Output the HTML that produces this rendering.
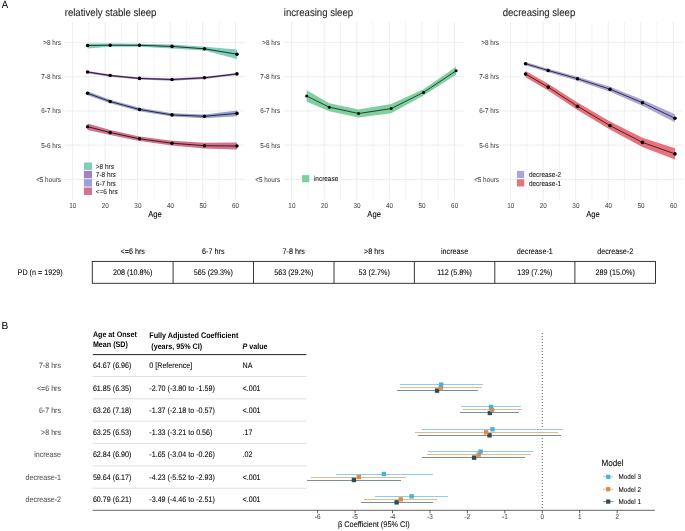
<!DOCTYPE html>
<html><head><meta charset="utf-8"><style>
html,body{margin:0;padding:0;background:#fff;}
body{width:685px;height:531px;overflow:hidden;}
svg{display:block;font-family:"Liberation Sans", sans-serif;will-change:transform;filter:blur(0.3px);}
text{text-rendering:geometricPrecision;}
</style></head><body>
<svg width="685" height="531" viewBox="0 0 685 531">
<rect x="0" y="0" width="685" height="531" fill="#fff"/>
<text transform="translate(1.80 7.80) scale(1 1.12)" font-size="9.5" fill="#000" stroke="#000" stroke-width="0.06">A</text>
<line x1="88.88" y1="21.80" x2="88.88" y2="199.80" stroke="#ebebeb" stroke-width="0.6"/>
<line x1="121.42" y1="21.80" x2="121.42" y2="199.80" stroke="#ebebeb" stroke-width="0.6"/>
<line x1="153.97" y1="21.80" x2="153.97" y2="199.80" stroke="#ebebeb" stroke-width="0.6"/>
<line x1="186.52" y1="21.80" x2="186.52" y2="199.80" stroke="#ebebeb" stroke-width="0.6"/>
<line x1="219.07" y1="21.80" x2="219.07" y2="199.80" stroke="#ebebeb" stroke-width="0.6"/>
<line x1="72.60" y1="21.80" x2="72.60" y2="199.80" stroke="#ebebeb" stroke-width="0.9"/>
<line x1="105.15" y1="21.80" x2="105.15" y2="199.80" stroke="#ebebeb" stroke-width="0.9"/>
<line x1="137.70" y1="21.80" x2="137.70" y2="199.80" stroke="#ebebeb" stroke-width="0.9"/>
<line x1="170.25" y1="21.80" x2="170.25" y2="199.80" stroke="#ebebeb" stroke-width="0.9"/>
<line x1="202.80" y1="21.80" x2="202.80" y2="199.80" stroke="#ebebeb" stroke-width="0.9"/>
<line x1="235.35" y1="21.80" x2="235.35" y2="199.80" stroke="#ebebeb" stroke-width="0.9"/>
<line x1="64.80" y1="42.40" x2="244.90" y2="42.40" stroke="#ebebeb" stroke-width="0.9"/>
<text transform="translate(61.00 44.90) scale(1 1.12)" font-size="6.35" fill="#4d4d4d" text-anchor="end" stroke="#4d4d4d" stroke-width="0.06">&gt;8 hrs</text>
<line x1="64.80" y1="76.65" x2="244.90" y2="76.65" stroke="#ebebeb" stroke-width="0.9"/>
<text transform="translate(61.00 79.15) scale(1 1.12)" font-size="6.35" fill="#4d4d4d" text-anchor="end" stroke="#4d4d4d" stroke-width="0.06">7-8 hrs</text>
<line x1="64.80" y1="110.90" x2="244.90" y2="110.90" stroke="#ebebeb" stroke-width="0.9"/>
<text transform="translate(61.00 113.40) scale(1 1.12)" font-size="6.35" fill="#4d4d4d" text-anchor="end" stroke="#4d4d4d" stroke-width="0.06">6-7 hrs</text>
<line x1="64.80" y1="145.15" x2="244.90" y2="145.15" stroke="#ebebeb" stroke-width="0.9"/>
<text transform="translate(61.00 147.65) scale(1 1.12)" font-size="6.35" fill="#4d4d4d" text-anchor="end" stroke="#4d4d4d" stroke-width="0.06">5-6 hrs</text>
<line x1="64.80" y1="179.40" x2="244.90" y2="179.40" stroke="#ebebeb" stroke-width="0.9"/>
<text transform="translate(61.00 181.90) scale(1 1.12)" font-size="6.35" fill="#4d4d4d" text-anchor="end" stroke="#4d4d4d" stroke-width="0.06">&lt;5 hours</text>
<text transform="translate(72.80 208.00) scale(1 1.12)" font-size="6.35" fill="#4d4d4d" text-anchor="middle" stroke="#4d4d4d" stroke-width="0.06">10</text>
<text transform="translate(105.35 208.00) scale(1 1.12)" font-size="6.35" fill="#4d4d4d" text-anchor="middle" stroke="#4d4d4d" stroke-width="0.06">20</text>
<text transform="translate(137.90 208.00) scale(1 1.12)" font-size="6.35" fill="#4d4d4d" text-anchor="middle" stroke="#4d4d4d" stroke-width="0.06">30</text>
<text transform="translate(170.45 208.00) scale(1 1.12)" font-size="6.35" fill="#4d4d4d" text-anchor="middle" stroke="#4d4d4d" stroke-width="0.06">40</text>
<text transform="translate(203.00 208.00) scale(1 1.12)" font-size="6.35" fill="#4d4d4d" text-anchor="middle" stroke="#4d4d4d" stroke-width="0.06">50</text>
<text transform="translate(235.55 208.00) scale(1 1.12)" font-size="6.35" fill="#4d4d4d" text-anchor="middle" stroke="#4d4d4d" stroke-width="0.06">60</text>
<text transform="translate(155.00 217.30) scale(1 1.12)" font-size="7.65" fill="#000" text-anchor="middle" stroke="#000" stroke-width="0.06">Age</text>
<text transform="translate(64.70 15.80) scale(1 1.12)" font-size="9.6" fill="#1a1a1a" stroke="#1a1a1a" stroke-width="0.06">relatively stable sleep</text>
<line x1="307.97" y1="21.80" x2="307.97" y2="199.80" stroke="#ebebeb" stroke-width="0.6"/>
<line x1="340.52" y1="21.80" x2="340.52" y2="199.80" stroke="#ebebeb" stroke-width="0.6"/>
<line x1="373.07" y1="21.80" x2="373.07" y2="199.80" stroke="#ebebeb" stroke-width="0.6"/>
<line x1="405.62" y1="21.80" x2="405.62" y2="199.80" stroke="#ebebeb" stroke-width="0.6"/>
<line x1="438.17" y1="21.80" x2="438.17" y2="199.80" stroke="#ebebeb" stroke-width="0.6"/>
<line x1="291.70" y1="21.80" x2="291.70" y2="199.80" stroke="#ebebeb" stroke-width="0.9"/>
<line x1="324.25" y1="21.80" x2="324.25" y2="199.80" stroke="#ebebeb" stroke-width="0.9"/>
<line x1="356.80" y1="21.80" x2="356.80" y2="199.80" stroke="#ebebeb" stroke-width="0.9"/>
<line x1="389.35" y1="21.80" x2="389.35" y2="199.80" stroke="#ebebeb" stroke-width="0.9"/>
<line x1="421.90" y1="21.80" x2="421.90" y2="199.80" stroke="#ebebeb" stroke-width="0.9"/>
<line x1="454.45" y1="21.80" x2="454.45" y2="199.80" stroke="#ebebeb" stroke-width="0.9"/>
<line x1="283.90" y1="42.40" x2="464.00" y2="42.40" stroke="#ebebeb" stroke-width="0.9"/>
<text transform="translate(280.10 44.90) scale(1 1.12)" font-size="6.35" fill="#4d4d4d" text-anchor="end" stroke="#4d4d4d" stroke-width="0.06">&gt;8 hrs</text>
<line x1="283.90" y1="76.65" x2="464.00" y2="76.65" stroke="#ebebeb" stroke-width="0.9"/>
<text transform="translate(280.10 79.15) scale(1 1.12)" font-size="6.35" fill="#4d4d4d" text-anchor="end" stroke="#4d4d4d" stroke-width="0.06">7-8 hrs</text>
<line x1="283.90" y1="110.90" x2="464.00" y2="110.90" stroke="#ebebeb" stroke-width="0.9"/>
<text transform="translate(280.10 113.40) scale(1 1.12)" font-size="6.35" fill="#4d4d4d" text-anchor="end" stroke="#4d4d4d" stroke-width="0.06">6-7 hrs</text>
<line x1="283.90" y1="145.15" x2="464.00" y2="145.15" stroke="#ebebeb" stroke-width="0.9"/>
<text transform="translate(280.10 147.65) scale(1 1.12)" font-size="6.35" fill="#4d4d4d" text-anchor="end" stroke="#4d4d4d" stroke-width="0.06">5-6 hrs</text>
<line x1="283.90" y1="179.40" x2="464.00" y2="179.40" stroke="#ebebeb" stroke-width="0.9"/>
<text transform="translate(280.10 181.90) scale(1 1.12)" font-size="6.35" fill="#4d4d4d" text-anchor="end" stroke="#4d4d4d" stroke-width="0.06">&lt;5 hours</text>
<text transform="translate(291.90 208.00) scale(1 1.12)" font-size="6.35" fill="#4d4d4d" text-anchor="middle" stroke="#4d4d4d" stroke-width="0.06">10</text>
<text transform="translate(324.45 208.00) scale(1 1.12)" font-size="6.35" fill="#4d4d4d" text-anchor="middle" stroke="#4d4d4d" stroke-width="0.06">20</text>
<text transform="translate(357.00 208.00) scale(1 1.12)" font-size="6.35" fill="#4d4d4d" text-anchor="middle" stroke="#4d4d4d" stroke-width="0.06">30</text>
<text transform="translate(389.55 208.00) scale(1 1.12)" font-size="6.35" fill="#4d4d4d" text-anchor="middle" stroke="#4d4d4d" stroke-width="0.06">40</text>
<text transform="translate(422.10 208.00) scale(1 1.12)" font-size="6.35" fill="#4d4d4d" text-anchor="middle" stroke="#4d4d4d" stroke-width="0.06">50</text>
<text transform="translate(454.65 208.00) scale(1 1.12)" font-size="6.35" fill="#4d4d4d" text-anchor="middle" stroke="#4d4d4d" stroke-width="0.06">60</text>
<text transform="translate(374.10 217.30) scale(1 1.12)" font-size="7.65" fill="#000" text-anchor="middle" stroke="#000" stroke-width="0.06">Age</text>
<text transform="translate(283.80 15.80) scale(1 1.12)" font-size="9.6" fill="#1a1a1a" stroke="#1a1a1a" stroke-width="0.06">increasing sleep</text>
<line x1="526.88" y1="21.80" x2="526.88" y2="199.80" stroke="#ebebeb" stroke-width="0.6"/>
<line x1="559.43" y1="21.80" x2="559.43" y2="199.80" stroke="#ebebeb" stroke-width="0.6"/>
<line x1="591.98" y1="21.80" x2="591.98" y2="199.80" stroke="#ebebeb" stroke-width="0.6"/>
<line x1="624.52" y1="21.80" x2="624.52" y2="199.80" stroke="#ebebeb" stroke-width="0.6"/>
<line x1="657.08" y1="21.80" x2="657.08" y2="199.80" stroke="#ebebeb" stroke-width="0.6"/>
<line x1="510.60" y1="21.80" x2="510.60" y2="199.80" stroke="#ebebeb" stroke-width="0.9"/>
<line x1="543.15" y1="21.80" x2="543.15" y2="199.80" stroke="#ebebeb" stroke-width="0.9"/>
<line x1="575.70" y1="21.80" x2="575.70" y2="199.80" stroke="#ebebeb" stroke-width="0.9"/>
<line x1="608.25" y1="21.80" x2="608.25" y2="199.80" stroke="#ebebeb" stroke-width="0.9"/>
<line x1="640.80" y1="21.80" x2="640.80" y2="199.80" stroke="#ebebeb" stroke-width="0.9"/>
<line x1="673.35" y1="21.80" x2="673.35" y2="199.80" stroke="#ebebeb" stroke-width="0.9"/>
<line x1="502.80" y1="42.40" x2="682.90" y2="42.40" stroke="#ebebeb" stroke-width="0.9"/>
<text transform="translate(499.00 44.90) scale(1 1.12)" font-size="6.35" fill="#4d4d4d" text-anchor="end" stroke="#4d4d4d" stroke-width="0.06">&gt;8 hrs</text>
<line x1="502.80" y1="76.65" x2="682.90" y2="76.65" stroke="#ebebeb" stroke-width="0.9"/>
<text transform="translate(499.00 79.15) scale(1 1.12)" font-size="6.35" fill="#4d4d4d" text-anchor="end" stroke="#4d4d4d" stroke-width="0.06">7-8 hrs</text>
<line x1="502.80" y1="110.90" x2="682.90" y2="110.90" stroke="#ebebeb" stroke-width="0.9"/>
<text transform="translate(499.00 113.40) scale(1 1.12)" font-size="6.35" fill="#4d4d4d" text-anchor="end" stroke="#4d4d4d" stroke-width="0.06">6-7 hrs</text>
<line x1="502.80" y1="145.15" x2="682.90" y2="145.15" stroke="#ebebeb" stroke-width="0.9"/>
<text transform="translate(499.00 147.65) scale(1 1.12)" font-size="6.35" fill="#4d4d4d" text-anchor="end" stroke="#4d4d4d" stroke-width="0.06">5-6 hrs</text>
<line x1="502.80" y1="179.40" x2="682.90" y2="179.40" stroke="#ebebeb" stroke-width="0.9"/>
<text transform="translate(499.00 181.90) scale(1 1.12)" font-size="6.35" fill="#4d4d4d" text-anchor="end" stroke="#4d4d4d" stroke-width="0.06">&lt;5 hours</text>
<text transform="translate(510.80 208.00) scale(1 1.12)" font-size="6.35" fill="#4d4d4d" text-anchor="middle" stroke="#4d4d4d" stroke-width="0.06">10</text>
<text transform="translate(543.35 208.00) scale(1 1.12)" font-size="6.35" fill="#4d4d4d" text-anchor="middle" stroke="#4d4d4d" stroke-width="0.06">20</text>
<text transform="translate(575.90 208.00) scale(1 1.12)" font-size="6.35" fill="#4d4d4d" text-anchor="middle" stroke="#4d4d4d" stroke-width="0.06">30</text>
<text transform="translate(608.45 208.00) scale(1 1.12)" font-size="6.35" fill="#4d4d4d" text-anchor="middle" stroke="#4d4d4d" stroke-width="0.06">40</text>
<text transform="translate(641.00 208.00) scale(1 1.12)" font-size="6.35" fill="#4d4d4d" text-anchor="middle" stroke="#4d4d4d" stroke-width="0.06">50</text>
<text transform="translate(673.55 208.00) scale(1 1.12)" font-size="6.35" fill="#4d4d4d" text-anchor="middle" stroke="#4d4d4d" stroke-width="0.06">60</text>
<text transform="translate(593.00 217.30) scale(1 1.12)" font-size="7.65" fill="#000" text-anchor="middle" stroke="#000" stroke-width="0.06">Age</text>
<text transform="translate(502.70 15.80) scale(1 1.12)" font-size="9.6" fill="#1a1a1a" stroke="#1a1a1a" stroke-width="0.06">decreasing sleep</text>
<polygon points="87.57,43.60 110.20,43.60 139.49,43.70 172.04,44.40 204.43,46.80 236.98,49.50 236.98,59.00 204.43,50.60 172.04,48.40 139.49,46.80 110.20,46.80 87.57,48.60" fill="#7fcdbb" fill-opacity="1.0"/>
<polyline points="87.57,45.50 110.20,45.20 139.49,45.30 172.04,46.40 204.43,48.80 236.98,54.20" fill="none" stroke="#000" stroke-width="0.75" stroke-linejoin="round"/>
<circle cx="87.57" cy="45.50" r="1.78" fill="#000"/>
<circle cx="110.20" cy="45.20" r="1.78" fill="#000"/>
<circle cx="139.49" cy="45.30" r="1.78" fill="#000"/>
<circle cx="172.04" cy="46.40" r="1.78" fill="#000"/>
<circle cx="204.43" cy="48.80" r="1.78" fill="#000"/>
<circle cx="236.98" cy="54.20" r="1.78" fill="#000"/>
<polygon points="87.57,71.00 110.20,74.50 139.49,77.40 172.04,78.50 204.43,76.80 236.98,72.90 236.98,75.10 204.43,79.00 172.04,80.70 139.49,79.60 110.20,76.70 87.57,73.20" fill="#a67fc4" fill-opacity="1.0"/>
<polyline points="87.57,72.00 110.20,75.50 139.49,78.40 172.04,79.50 204.43,77.80 236.98,73.90" fill="none" stroke="#000" stroke-width="0.75" stroke-linejoin="round"/>
<circle cx="87.57" cy="72.00" r="1.78" fill="#000"/>
<circle cx="110.20" cy="75.50" r="1.78" fill="#000"/>
<circle cx="139.49" cy="78.40" r="1.78" fill="#000"/>
<circle cx="172.04" cy="79.50" r="1.78" fill="#000"/>
<circle cx="204.43" cy="77.80" r="1.78" fill="#000"/>
<circle cx="236.98" cy="73.90" r="1.78" fill="#000"/>
<polygon points="87.57,91.30 110.20,99.80 139.49,107.80 172.04,113.20 204.43,114.40 236.98,110.60 236.98,116.20 204.43,118.20 172.04,116.60 139.49,111.20 110.20,103.20 87.57,95.30" fill="#98a3d3" fill-opacity="1.0"/>
<polyline points="87.57,93.30 110.20,101.50 139.49,109.50 172.04,114.90 204.43,116.30 236.98,113.40" fill="none" stroke="#000" stroke-width="0.75" stroke-linejoin="round"/>
<circle cx="87.57" cy="93.30" r="1.78" fill="#000"/>
<circle cx="110.20" cy="101.50" r="1.78" fill="#000"/>
<circle cx="139.49" cy="109.50" r="1.78" fill="#000"/>
<circle cx="172.04" cy="114.90" r="1.78" fill="#000"/>
<circle cx="204.43" cy="116.30" r="1.78" fill="#000"/>
<circle cx="236.98" cy="113.40" r="1.78" fill="#000"/>
<polygon points="87.57,123.40 110.20,129.90 139.49,136.60 172.04,140.80 204.43,142.80 236.98,142.40 236.98,149.60 204.43,148.60 172.04,145.60 139.49,141.00 110.20,135.10 87.57,130.00" fill="#d5718a" fill-opacity="1.0"/>
<polyline points="87.57,126.70 110.20,132.50 139.49,138.80 172.04,143.20 204.43,145.70 236.98,146.00" fill="none" stroke="#000" stroke-width="0.75" stroke-linejoin="round"/>
<circle cx="87.57" cy="126.70" r="1.78" fill="#000"/>
<circle cx="110.20" cy="132.50" r="1.78" fill="#000"/>
<circle cx="139.49" cy="138.80" r="1.78" fill="#000"/>
<circle cx="172.04" cy="143.20" r="1.78" fill="#000"/>
<circle cx="204.43" cy="145.70" r="1.78" fill="#000"/>
<circle cx="236.98" cy="146.00" r="1.78" fill="#000"/>
<polygon points="306.67,90.30 329.30,103.20 358.59,109.40 391.14,104.00 423.53,89.20 456.08,66.80 456.08,74.80 423.53,95.60 391.14,113.20 358.59,117.60 329.30,111.20 306.67,101.70" fill="#7fcf9f" fill-opacity="1.0"/>
<polyline points="306.67,96.00 329.30,107.20 358.59,113.50 391.14,108.60 423.53,92.40 456.08,70.80" fill="none" stroke="#000" stroke-width="0.7" stroke-linejoin="round"/>
<circle cx="306.67" cy="96.00" r="1.5" fill="#000"/>
<circle cx="329.30" cy="107.20" r="1.5" fill="#000"/>
<circle cx="358.59" cy="113.50" r="1.5" fill="#000"/>
<circle cx="391.14" cy="108.60" r="1.5" fill="#000"/>
<circle cx="423.53" cy="92.40" r="1.5" fill="#000"/>
<circle cx="456.08" cy="70.80" r="1.5" fill="#000"/>
<polygon points="525.57,62.00 548.20,68.70 577.49,76.70 610.04,86.70 642.43,99.70 674.98,114.30 674.98,122.30 642.43,105.70 610.04,91.70 577.49,80.70 548.20,72.30 525.57,65.40" fill="#aba6d8" fill-opacity="1.0"/>
<polyline points="525.57,63.70 548.20,70.50 577.49,78.70 610.04,89.20 642.43,102.70 674.98,118.30" fill="none" stroke="#000" stroke-width="0.7" stroke-linejoin="round"/>
<circle cx="525.57" cy="63.70" r="1.78" fill="#000"/>
<circle cx="548.20" cy="70.50" r="1.78" fill="#000"/>
<circle cx="577.49" cy="78.70" r="1.78" fill="#000"/>
<circle cx="610.04" cy="89.20" r="1.78" fill="#000"/>
<circle cx="642.43" cy="102.70" r="1.78" fill="#000"/>
<circle cx="674.98" cy="118.30" r="1.78" fill="#000"/>
<polygon points="525.57,71.00 548.20,83.70 577.49,102.60 610.04,121.60 642.43,137.80 674.98,148.20 674.98,159.60 642.43,147.00 610.04,129.60 577.49,110.00 548.20,90.50 525.57,77.20" fill="#e9717b" fill-opacity="1.0"/>
<polyline points="525.57,74.10 548.20,87.10 577.49,106.30 610.04,125.60 642.43,142.40 674.98,153.90" fill="none" stroke="#000" stroke-width="0.7" stroke-linejoin="round"/>
<circle cx="525.57" cy="74.10" r="1.78" fill="#000"/>
<circle cx="548.20" cy="87.10" r="1.78" fill="#000"/>
<circle cx="577.49" cy="106.30" r="1.78" fill="#000"/>
<circle cx="610.04" cy="125.60" r="1.78" fill="#000"/>
<circle cx="642.43" cy="142.40" r="1.78" fill="#000"/>
<circle cx="674.98" cy="153.90" r="1.78" fill="#000"/>
<rect x="83.90" y="162.50" width="8.10" height="7.40" fill="#7fcdbb"/>
<text transform="translate(95.80 169.00) scale(1 1.12)" font-size="6.45" fill="#1a1a1a" stroke="#1a1a1a" stroke-width="0.06">&gt;8 hrs</text>
<rect x="83.90" y="170.85" width="8.10" height="7.40" fill="#a67fc4"/>
<text transform="translate(95.80 177.35) scale(1 1.12)" font-size="6.45" fill="#1a1a1a" stroke="#1a1a1a" stroke-width="0.06">7-8 hrs</text>
<rect x="83.90" y="179.20" width="8.10" height="7.40" fill="#98a3d3"/>
<text transform="translate(95.80 185.70) scale(1 1.12)" font-size="6.45" fill="#1a1a1a" stroke="#1a1a1a" stroke-width="0.06">6-7 hrs</text>
<rect x="83.90" y="187.55" width="8.10" height="7.40" fill="#d5718a"/>
<text transform="translate(95.80 194.05) scale(1 1.12)" font-size="6.45" fill="#1a1a1a" stroke="#1a1a1a" stroke-width="0.06">&lt;=6 hrs</text>
<rect x="302.00" y="175.10" width="7.30" height="7.10" fill="#7fcf9f"/>
<text transform="translate(313.90 181.45) scale(1 1.12)" font-size="6.45" fill="#1a1a1a" stroke="#1a1a1a" stroke-width="0.06">increase</text>
<rect x="517.00" y="170.90" width="7.20" height="7.20" fill="#aba6d8"/>
<text transform="translate(528.90 177.30) scale(1 1.12)" font-size="6.45" fill="#1a1a1a" stroke="#1a1a1a" stroke-width="0.06">decrease-2</text>
<rect x="517.00" y="179.25" width="7.20" height="7.20" fill="#e9717b"/>
<text transform="translate(528.90 185.65) scale(1 1.12)" font-size="6.45" fill="#1a1a1a" stroke="#1a1a1a" stroke-width="0.06">decrease-1</text>
<text transform="translate(132.70 254.10) scale(1 1.12)" font-size="7.2" fill="#000" text-anchor="middle" stroke="#000" stroke-width="0.06">&lt;=6 hrs</text>
<text transform="translate(132.70 275.10) scale(1 1.12)" font-size="7.2" fill="#000" text-anchor="middle" stroke="#000" stroke-width="0.06">208 (10.8%)</text>
<text transform="translate(213.30 254.10) scale(1 1.12)" font-size="7.2" fill="#000" text-anchor="middle" stroke="#000" stroke-width="0.06">6-7 hrs</text>
<text transform="translate(213.30 275.10) scale(1 1.12)" font-size="7.2" fill="#000" text-anchor="middle" stroke="#000" stroke-width="0.06">565 (29.3%)</text>
<text transform="translate(293.75 254.10) scale(1 1.12)" font-size="7.2" fill="#000" text-anchor="middle" stroke="#000" stroke-width="0.06">7-8 hrs</text>
<text transform="translate(293.75 275.10) scale(1 1.12)" font-size="7.2" fill="#000" text-anchor="middle" stroke="#000" stroke-width="0.06">563 (29.2%)</text>
<text transform="translate(374.20 254.10) scale(1 1.12)" font-size="7.2" fill="#000" text-anchor="middle" stroke="#000" stroke-width="0.06">&gt;8 hrs</text>
<text transform="translate(374.20 275.10) scale(1 1.12)" font-size="7.2" fill="#000" text-anchor="middle" stroke="#000" stroke-width="0.06">53 (2.7%)</text>
<text transform="translate(454.60 254.10) scale(1 1.12)" font-size="7.2" fill="#000" text-anchor="middle" stroke="#000" stroke-width="0.06">increase</text>
<text transform="translate(454.60 275.10) scale(1 1.12)" font-size="7.2" fill="#000" text-anchor="middle" stroke="#000" stroke-width="0.06">112 (5.8%)</text>
<text transform="translate(534.85 254.10) scale(1 1.12)" font-size="7.2" fill="#000" text-anchor="middle" stroke="#000" stroke-width="0.06">decrease-1</text>
<text transform="translate(534.85 275.10) scale(1 1.12)" font-size="7.2" fill="#000" text-anchor="middle" stroke="#000" stroke-width="0.06">139 (7.2%)</text>
<text transform="translate(615.20 254.10) scale(1 1.12)" font-size="7.2" fill="#000" text-anchor="middle" stroke="#000" stroke-width="0.06">decrease-2</text>
<text transform="translate(615.20 275.10) scale(1 1.12)" font-size="7.2" fill="#000" text-anchor="middle" stroke="#000" stroke-width="0.06">289 (15.0%)</text>
<text transform="translate(17.60 275.00) scale(1 1.12)" font-size="7.2" fill="#000" stroke="#000" stroke-width="0.06">PD (n = 1929)</text>
<rect x="92.30" y="261.4" width="563.22" height="21.9" fill="none" stroke="#222" stroke-width="0.9"/>
<line x1="173.10" y1="261.40" x2="173.10" y2="283.30" stroke="#222" stroke-width="0.9"/>
<line x1="253.50" y1="261.40" x2="253.50" y2="283.30" stroke="#222" stroke-width="0.9"/>
<line x1="334.00" y1="261.40" x2="334.00" y2="283.30" stroke="#222" stroke-width="0.9"/>
<line x1="414.40" y1="261.40" x2="414.40" y2="283.30" stroke="#222" stroke-width="0.9"/>
<line x1="494.80" y1="261.40" x2="494.80" y2="283.30" stroke="#222" stroke-width="0.9"/>
<line x1="574.90" y1="261.40" x2="574.90" y2="283.30" stroke="#222" stroke-width="0.9"/>
<text transform="translate(1.40 329.00) scale(1 1.0)" font-size="10.2" fill="#000" stroke="#000" stroke-width="0.06">B</text>
<text transform="translate(92.90 337.20) scale(1 1.12)" font-size="7.15" fill="#000" font-weight="bold">Age at Onset</text>
<text transform="translate(92.90 347.40) scale(1 1.12)" font-size="7.15" fill="#000" font-weight="bold">Mean (SD)</text>
<text transform="translate(149.20 338.40) scale(1 1.12)" font-size="7.25" fill="#000" font-weight="bold">Fully Adjusted Coefficient</text>
<text transform="translate(149.30 348.60) scale(1 1.12)" font-size="7.15" fill="#000" font-weight="bold"> (years, 95% CI)</text>
<text transform="translate(242.5 349.0) scale(1 1.12)" font-size="7.15" fill="#000" font-weight="bold"><tspan font-style="italic">P</tspan> value</text>
<line x1="92.90" y1="354.60" x2="306.30" y2="354.60" stroke="#222" stroke-width="1.0"/>
<text transform="translate(61.00 368.20) scale(1 1.12)" font-size="7.1" fill="#555" text-anchor="end" stroke="#555" stroke-width="0.06">7-8 hrs</text>
<text transform="translate(92.90 368.20) scale(1 1.12)" font-size="7.15" fill="#000" stroke="#000" stroke-width="0.06">64.67 (6.96)</text>
<text transform="translate(149.30 368.20) scale(1 1.12)" font-size="7.15" fill="#000" stroke="#000" stroke-width="0.06">0 [Reference]</text>
<text transform="translate(242.50 368.20) scale(1 1.12)" font-size="7.15" fill="#000" stroke="#000" stroke-width="0.06">NA</text>
<text transform="translate(61.00 390.50) scale(1 1.12)" font-size="7.1" fill="#555" text-anchor="end" stroke="#555" stroke-width="0.06">&lt;=6 hrs</text>
<text transform="translate(92.90 390.50) scale(1 1.12)" font-size="7.15" fill="#000" stroke="#000" stroke-width="0.06">61.85 (6.35)</text>
<text transform="translate(149.30 390.50) scale(1 1.12)" font-size="7.15" fill="#000" stroke="#000" stroke-width="0.06">-2.70 (-3.80 to -1.59)</text>
<text transform="translate(242.50 390.50) scale(1 1.12)" font-size="7.15" fill="#000" stroke="#000" stroke-width="0.06">&lt;.001</text>
<text transform="translate(61.00 412.80) scale(1 1.12)" font-size="7.1" fill="#555" text-anchor="end" stroke="#555" stroke-width="0.06">6-7 hrs</text>
<text transform="translate(92.90 412.80) scale(1 1.12)" font-size="7.15" fill="#000" stroke="#000" stroke-width="0.06">63.26 (7.18)</text>
<text transform="translate(149.30 412.80) scale(1 1.12)" font-size="7.15" fill="#000" stroke="#000" stroke-width="0.06">-1.37 (-2.18 to -0.57)</text>
<text transform="translate(242.50 412.80) scale(1 1.12)" font-size="7.15" fill="#000" stroke="#000" stroke-width="0.06">&lt;.001</text>
<text transform="translate(61.00 435.10) scale(1 1.12)" font-size="7.1" fill="#555" text-anchor="end" stroke="#555" stroke-width="0.06">&gt;8 hrs</text>
<text transform="translate(92.90 435.10) scale(1 1.12)" font-size="7.15" fill="#000" stroke="#000" stroke-width="0.06">63.25 (6.53)</text>
<text transform="translate(149.30 435.10) scale(1 1.12)" font-size="7.15" fill="#000" stroke="#000" stroke-width="0.06">-1.33 (-3.21 to 0.56)</text>
<text transform="translate(242.50 435.10) scale(1 1.12)" font-size="7.15" fill="#000" stroke="#000" stroke-width="0.06">.17</text>
<text transform="translate(61.00 457.40) scale(1 1.12)" font-size="7.1" fill="#555" text-anchor="end" stroke="#555" stroke-width="0.06">increase</text>
<text transform="translate(92.90 457.40) scale(1 1.12)" font-size="7.15" fill="#000" stroke="#000" stroke-width="0.06">62.84 (6.90)</text>
<text transform="translate(149.30 457.40) scale(1 1.12)" font-size="7.15" fill="#000" stroke="#000" stroke-width="0.06">-1.65 (-3.04 to -0.26)</text>
<text transform="translate(242.50 457.40) scale(1 1.12)" font-size="7.15" fill="#000" stroke="#000" stroke-width="0.06">.02</text>
<text transform="translate(61.00 479.70) scale(1 1.12)" font-size="7.1" fill="#555" text-anchor="end" stroke="#555" stroke-width="0.06">decrease-1</text>
<text transform="translate(92.90 479.70) scale(1 1.12)" font-size="7.15" fill="#000" stroke="#000" stroke-width="0.06">59.64 (6.17)</text>
<text transform="translate(149.30 479.70) scale(1 1.12)" font-size="7.15" fill="#000" stroke="#000" stroke-width="0.06">-4.23 (-5.52 to -2.93)</text>
<text transform="translate(242.50 479.70) scale(1 1.12)" font-size="7.15" fill="#000" stroke="#000" stroke-width="0.06">&lt;.001</text>
<text transform="translate(61.00 502.00) scale(1 1.12)" font-size="7.1" fill="#555" text-anchor="end" stroke="#555" stroke-width="0.06">decrease-2</text>
<text transform="translate(92.90 502.00) scale(1 1.12)" font-size="7.15" fill="#000" stroke="#000" stroke-width="0.06">60.79 (6.21)</text>
<text transform="translate(149.30 502.00) scale(1 1.12)" font-size="7.15" fill="#000" stroke="#000" stroke-width="0.06">-3.49 (-4.46 to -2.51)</text>
<text transform="translate(242.50 502.00) scale(1 1.12)" font-size="7.15" fill="#000" stroke="#000" stroke-width="0.06">&lt;.001</text>
<line x1="92.60" y1="376.50" x2="306.50" y2="376.50" stroke="#dcdcdc" stroke-width="0.9"/>
<line x1="92.60" y1="398.85" x2="306.50" y2="398.85" stroke="#dcdcdc" stroke-width="0.9"/>
<line x1="92.60" y1="421.20" x2="306.50" y2="421.20" stroke="#dcdcdc" stroke-width="0.9"/>
<line x1="92.60" y1="443.55" x2="306.50" y2="443.55" stroke="#dcdcdc" stroke-width="0.9"/>
<line x1="92.60" y1="465.90" x2="306.50" y2="465.90" stroke="#dcdcdc" stroke-width="0.9"/>
<line x1="92.60" y1="488.25" x2="306.50" y2="488.25" stroke="#dcdcdc" stroke-width="0.9"/>
<line x1="542.30" y1="333.0" x2="542.30" y2="510" stroke="#333" stroke-width="0.9" stroke-dasharray="0.9 2.1"/>
<line x1="92.60" y1="510.30" x2="654.90" y2="510.30" stroke="#666" stroke-width="1.0"/>
<line x1="317.60" y1="510.30" x2="317.60" y2="513.30" stroke="#333" stroke-width="0.8"/>
<text transform="translate(317.60 518.70) scale(1 1.12)" font-size="6.35" fill="#4d4d4d" text-anchor="middle" stroke="#4d4d4d" stroke-width="0.06">-6</text>
<line x1="355.05" y1="510.30" x2="355.05" y2="513.30" stroke="#333" stroke-width="0.8"/>
<text transform="translate(355.05 518.70) scale(1 1.12)" font-size="6.35" fill="#4d4d4d" text-anchor="middle" stroke="#4d4d4d" stroke-width="0.06">-5</text>
<line x1="392.50" y1="510.30" x2="392.50" y2="513.30" stroke="#333" stroke-width="0.8"/>
<text transform="translate(392.50 518.70) scale(1 1.12)" font-size="6.35" fill="#4d4d4d" text-anchor="middle" stroke="#4d4d4d" stroke-width="0.06">-4</text>
<line x1="429.95" y1="510.30" x2="429.95" y2="513.30" stroke="#333" stroke-width="0.8"/>
<text transform="translate(429.95 518.70) scale(1 1.12)" font-size="6.35" fill="#4d4d4d" text-anchor="middle" stroke="#4d4d4d" stroke-width="0.06">-3</text>
<line x1="467.40" y1="510.30" x2="467.40" y2="513.30" stroke="#333" stroke-width="0.8"/>
<text transform="translate(467.40 518.70) scale(1 1.12)" font-size="6.35" fill="#4d4d4d" text-anchor="middle" stroke="#4d4d4d" stroke-width="0.06">-2</text>
<line x1="504.85" y1="510.30" x2="504.85" y2="513.30" stroke="#333" stroke-width="0.8"/>
<text transform="translate(504.85 518.70) scale(1 1.12)" font-size="6.35" fill="#4d4d4d" text-anchor="middle" stroke="#4d4d4d" stroke-width="0.06">-1</text>
<line x1="542.30" y1="510.30" x2="542.30" y2="513.30" stroke="#333" stroke-width="0.8"/>
<text transform="translate(542.30 518.70) scale(1 1.12)" font-size="6.35" fill="#4d4d4d" text-anchor="middle" stroke="#4d4d4d" stroke-width="0.06">0</text>
<line x1="579.75" y1="510.30" x2="579.75" y2="513.30" stroke="#333" stroke-width="0.8"/>
<text transform="translate(579.75 518.70) scale(1 1.12)" font-size="6.35" fill="#4d4d4d" text-anchor="middle" stroke="#4d4d4d" stroke-width="0.06">1</text>
<line x1="617.20" y1="510.30" x2="617.20" y2="513.30" stroke="#333" stroke-width="0.8"/>
<text transform="translate(617.20 518.70) scale(1 1.12)" font-size="6.35" fill="#4d4d4d" text-anchor="middle" stroke="#4d4d4d" stroke-width="0.06">2</text>
<text transform="translate(373.90 527.40) scale(1 1.12)" font-size="7.35" fill="#000" text-anchor="middle" stroke="#000" stroke-width="0.06">β Coefficient (95% CI)</text>
<line x1="399.99" y1="384.60" x2="482.75" y2="384.60" stroke="#8fcde6" stroke-width="1.0" shape-rendering="crispEdges"/>
<line x1="400.36" y1="387.60" x2="481.63" y2="387.60" stroke="#ebb586" stroke-width="1.0" shape-rendering="crispEdges"/>
<line x1="396.62" y1="390.60" x2="477.89" y2="390.60" stroke="#7e8e93" stroke-width="1.0" shape-rendering="crispEdges"/>
<rect x="434.87" y="388.40" width="4.40" height="4.40" fill="#2f4b55"/>
<rect x="438.61" y="385.40" width="4.40" height="4.40" fill="#dd8a45"/>
<rect x="438.98" y="382.40" width="4.40" height="4.40" fill="#4bb0d8"/>
<line x1="460.66" y1="406.95" x2="520.95" y2="406.95" stroke="#8fcde6" stroke-width="1.0" shape-rendering="crispEdges"/>
<line x1="462.91" y1="409.95" x2="521.70" y2="409.95" stroke="#ebb586" stroke-width="1.0" shape-rendering="crispEdges"/>
<line x1="460.28" y1="412.95" x2="519.46" y2="412.95" stroke="#7e8e93" stroke-width="1.0" shape-rendering="crispEdges"/>
<rect x="487.67" y="410.75" width="4.40" height="4.40" fill="#2f4b55"/>
<rect x="489.92" y="407.75" width="4.40" height="4.40" fill="#dd8a45"/>
<rect x="488.79" y="404.75" width="4.40" height="4.40" fill="#4bb0d8"/>
<line x1="422.09" y1="429.30" x2="563.27" y2="429.30" stroke="#8fcde6" stroke-width="1.0" shape-rendering="crispEdges"/>
<line x1="414.60" y1="432.30" x2="558.40" y2="432.30" stroke="#ebb586" stroke-width="1.0" shape-rendering="crispEdges"/>
<line x1="417.97" y1="435.30" x2="561.02" y2="435.30" stroke="#7e8e93" stroke-width="1.0" shape-rendering="crispEdges"/>
<rect x="487.30" y="433.10" width="4.40" height="4.40" fill="#2f4b55"/>
<rect x="483.92" y="430.10" width="4.40" height="4.40" fill="#dd8a45"/>
<rect x="490.29" y="427.10" width="4.40" height="4.40" fill="#4bb0d8"/>
<line x1="428.45" y1="451.65" x2="532.56" y2="451.65" stroke="#8fcde6" stroke-width="1.0" shape-rendering="crispEdges"/>
<line x1="426.95" y1="454.65" x2="530.69" y2="454.65" stroke="#ebb586" stroke-width="1.0" shape-rendering="crispEdges"/>
<line x1="422.46" y1="457.65" x2="525.45" y2="457.65" stroke="#7e8e93" stroke-width="1.0" shape-rendering="crispEdges"/>
<rect x="471.94" y="455.45" width="4.40" height="4.40" fill="#2f4b55"/>
<rect x="476.43" y="452.45" width="4.40" height="4.40" fill="#dd8a45"/>
<rect x="478.31" y="449.45" width="4.40" height="4.40" fill="#4bb0d8"/>
<line x1="335.58" y1="474.00" x2="432.57" y2="474.00" stroke="#8fcde6" stroke-width="1.0" shape-rendering="crispEdges"/>
<line x1="310.86" y1="477.00" x2="405.61" y2="477.00" stroke="#ebb586" stroke-width="1.0" shape-rendering="crispEdges"/>
<line x1="307.11" y1="480.00" x2="401.11" y2="480.00" stroke="#7e8e93" stroke-width="1.0" shape-rendering="crispEdges"/>
<rect x="351.73" y="477.80" width="4.40" height="4.40" fill="#2f4b55"/>
<rect x="356.59" y="474.80" width="4.40" height="4.40" fill="#dd8a45"/>
<rect x="381.69" y="471.80" width="4.40" height="4.40" fill="#4bb0d8"/>
<line x1="375.27" y1="496.35" x2="448.30" y2="496.35" stroke="#8fcde6" stroke-width="1.0" shape-rendering="crispEdges"/>
<line x1="364.41" y1="499.35" x2="436.69" y2="499.35" stroke="#ebb586" stroke-width="1.0" shape-rendering="crispEdges"/>
<line x1="361.04" y1="502.35" x2="433.32" y2="502.35" stroke="#7e8e93" stroke-width="1.0" shape-rendering="crispEdges"/>
<rect x="394.42" y="500.15" width="4.40" height="4.40" fill="#2f4b55"/>
<rect x="398.54" y="497.15" width="4.40" height="4.40" fill="#dd8a45"/>
<rect x="409.40" y="494.15" width="4.40" height="4.40" fill="#4bb0d8"/>
<text transform="translate(601.50 465.70) scale(1 1.12)" font-size="8.1" fill="#000" stroke="#000" stroke-width="0.06">Model</text>
<line x1="603.00" y1="476.80" x2="613.30" y2="476.80" stroke="#8fcde6" stroke-width="1.0"/>
<rect x="606.10" y="474.70" width="4.20" height="4.20" fill="#4bb0d8"/>
<text transform="translate(618.60 479.20) scale(1 1.12)" font-size="6.3" fill="#000" stroke="#000" stroke-width="0.06">Model 3</text>
<line x1="603.00" y1="489.20" x2="613.30" y2="489.20" stroke="#ebb586" stroke-width="1.0"/>
<rect x="606.10" y="487.10" width="4.20" height="4.20" fill="#dd8a45"/>
<text transform="translate(618.60 491.60) scale(1 1.12)" font-size="6.3" fill="#000" stroke="#000" stroke-width="0.06">Model 2</text>
<line x1="603.00" y1="501.60" x2="613.30" y2="501.60" stroke="#7e8e93" stroke-width="1.0"/>
<rect x="606.10" y="499.50" width="4.20" height="4.20" fill="#2f4b55"/>
<text transform="translate(618.60 504.00) scale(1 1.12)" font-size="6.3" fill="#000" stroke="#000" stroke-width="0.06">Model 1</text>
</svg>
</body></html>
